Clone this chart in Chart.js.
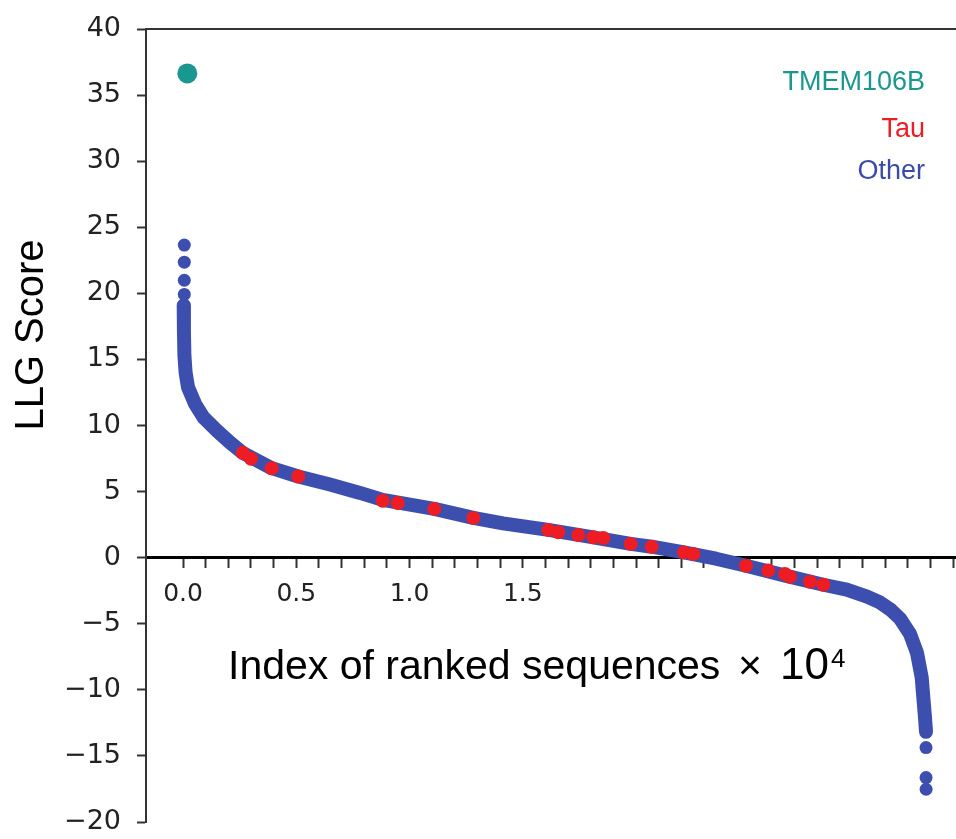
<!DOCTYPE html>
<html>
<head>
<meta charset="utf-8">
<title>LLG Score of ranked sequences</title>
<script src="https://cdn.jsdelivr.net/npm/chart.js@4.4.1/dist/chart.umd.min.js"></script>
<style>
  html, body { margin: 0; padding: 0; background: #fff; }
  #llgChart { display: block; }
</style>
</head>
<body>
<canvas id="llgChart" width="956" height="839"></canvas>
<script>
// X tick labels (index in units of 10^4)
const xLabelValues = [0, 5000, 10000, 15000];
const xLabelTexts = ['0.0', '0.5', '1.0', '1.5'];
const xTickStep = 1000;
const xTickLast = 34000;

// TMEM106B
const tmemX = [190];
const tmemY = [36.64];

// Tau sequences
const tauX = [2636, 3002, 3916, 5090, 8817, 9480, 11095, 12817, 16128, 16570, 17453, 18115,
              18557, 19766, 20693, 22119, 22530, 24856, 25842, 26578, 26799, 27682, 28270];
const tauY = [7.93, 7.48, 6.77, 6.14, 4.30, 4.14, 3.69, 3.01, 2.10, 1.92, 1.72, 1.54,
              1.49, 1.04, 0.83, 0.40, 0.28, -0.61, -0.98, -1.23, -1.44, -1.82, -2.05];

// Other sequences: dense ranked band
const otherX = [30, 40, 62, 115, 220, 530, 896, 1488, 2075, 2636, 3916, 5090, 6490, 7815, 8817,
                11095, 12817, 14128, 16128, 18115, 19766, 20693, 22119, 23532, 24856, 26591,
                28270, 29303, 30200, 30772, 31250, 31650, 32097, 32406, 32614, 32685, 32760, 32804];
const otherY = [19.09, 17.20, 15.30, 14.00, 12.90, 11.64, 10.63, 9.62, 8.71, 7.93, 6.77, 6.14, 5.53, 4.90, 4.37,
                3.69, 3.01, 2.60, 2.10, 1.54, 1.04, 0.83, 0.40, -0.08, -0.61, -1.36,
                -2.05, -2.42, -2.95, -3.39, -3.95, -4.60, -5.76, -7.20, -9.07, -10.58, -12.10, -13.18];
// Other sequences: isolated points at both ends
const otherTailX = [57, 57, 57, 57, 32804, 32806, 32808];
const otherTailY = [23.65, 22.36, 20.99, 19.92, -14.37, -16.64, -17.52];

const legendLabels = ['TMEM106B', 'Tau', 'Other'];

(function () {
    'use strict';

    const TEAL = '#1a9890';
    const RED = '#ee1d23';
    const BLUE = '#3d4fae';
    const legendColors = [TEAL, RED, '#3a4aa8'];
    const legendOffsets = [54, 101, 143];

    const toPoints = (xs, ys) => xs.map((x, i) => ({ x: x, y: ys[i] }));

    // axes must not push the plot area around
    const noPadding = (scale) => {
        scale.paddingLeft = 0;
        scale.paddingRight = 0;
        scale.paddingTop = 0;
        scale.paddingBottom = 0;
    };

    /**
     * Titles and coloured labels drawn on top of the chart
     */
    const figureText = {
        id: 'figureText',
        afterDraw(chart) {
            const ctx = chart.ctx;
            const area = chart.chartArea;
            ctx.save();

            ctx.font = '27px "Liberation Sans", Arial, sans-serif';
            ctx.textAlign = 'right';
            ctx.textBaseline = 'middle';
            legendLabels.forEach((label, i) => {
                ctx.fillStyle = legendColors[i];
                ctx.fillText(label, area.right - 31, area.top + legendOffsets[i]);
            });

            // x axis title with the multiplier
            ctx.fillStyle = '#000';
            ctx.textAlign = 'left';
            ctx.textBaseline = 'alphabetic';
            ctx.font = '41px "Liberation Sans", Arial, sans-serif';
            ctx.fillText('Index of ranked sequences', 228, 679);
            ctx.fillText('\u00d7', 738, 679);
            ctx.textAlign = 'right';
            ctx.font = '44px "Liberation Sans", Arial, sans-serif';
            ctx.fillText('10', 829, 679);
            ctx.textAlign = 'left';
            ctx.font = '26px "Liberation Sans", Arial, sans-serif';
            ctx.fillText('4', 831, 667);

            // y axis title
            ctx.font = '40px "Liberation Sans", Arial, sans-serif';
            ctx.textAlign = 'center';
            ctx.textBaseline = 'middle';
            ctx.translate(32, 335);
            ctx.rotate(-Math.PI / 2);
            ctx.fillText('LLG Score', 0, 0);

            ctx.restore();
        }
    };

    new Chart(document.getElementById('llgChart'), {
        type: 'scatter',
        data: {
            datasets: [
                {
                    label: 'TMEM106B',
                    data: toPoints(tmemX, tmemY),
                    backgroundColor: TEAL,
                    borderWidth: 0,
                    pointRadius: 10
                },
                {
                    label: 'Tau',
                    data: toPoints(tauX, tauY),
                    backgroundColor: RED,
                    borderWidth: 0,
                    pointRadius: 7
                },
                {
                    label: 'Other',
                    data: toPoints(otherX, otherY),
                    showLine: true,
                    tension: 0,
                    borderColor: BLUE,
                    borderWidth: 14,
                    borderCapStyle: 'round',
                    borderJoinStyle: 'round',
                    pointRadius: 0
                },
                {
                    label: 'Other',
                    data: toPoints(otherTailX, otherTailY),
                    backgroundColor: BLUE,
                    borderWidth: 0,
                    pointRadius: 6.5
                }
            ]
        },
        options: {
            responsive: false,
            animation: false,
            devicePixelRatio: 1,
            layout: { autoPadding: false, padding: { top: 29, bottom: 17, left: 0, right: 0 } },
            plugins: {
                legend: { display: false },
                tooltip: { enabled: false }
            },
            scales: {
                x: {
                    type: 'linear',
                    position: { y: 0 },
                    min: -1634,
                    max: 34128,
                    afterBuildTicks: (scale) => {
                        const ticks = [];
                        for (let v = 0; v <= xTickLast; v += xTickStep) ticks.push({ value: v });
                        scale.ticks = ticks;
                    },
                    afterFit: noPadding,
                    ticks: {
                        autoSkip: false,
                        maxRotation: 0,
                        minRotation: 0,
                        padding: 13,
                        color: '#222',
                        font: { family: '"DejaVu Sans", sans-serif', size: 25 },
                        callback: (value) => {
                            const k = xLabelValues.indexOf(value);
                            return k >= 0 ? xLabelTexts[k] : '';
                        }
                    },
                    grid: {
                        drawOnChartArea: false,
                        tickLength: 9,
                        tickWidth: 2,
                        tickColor: '#333'
                    },
                    border: { color: '#000', width: 3 }
                },
                x2: {
                    type: 'linear',
                    position: 'top',
                    min: -1634,
                    max: 34128,
                    afterFit: (scale) => {
                        noPadding(scale);
                        scale.height = 0;
                    },
                    ticks: { display: false },
                    grid: { display: false },
                    border: { display: true, color: '#333', width: 2 }
                },
                y: {
                    type: 'linear',
                    position: 'left',
                    min: -20,
                    max: 40,
                    afterFit: (scale) => {
                        noPadding(scale);
                        scale.width = 146;
                    },
                    ticks: {
                        stepSize: 5,
                        padding: 16,
                        color: '#222',
                        font: { family: '"DejaVu Sans", sans-serif', size: 27 },
                        callback: (value) => value < 0 ? '\u2212' + Math.abs(value) : String(value)
                    },
                    grid: {
                        drawOnChartArea: false,
                        tickLength: 9,
                        tickWidth: 2,
                        tickColor: '#333'
                    },
                    border: { color: '#333', width: 2 }
                }
            }
        },
        plugins: [figureText]
    });
})();
</script>
</body>
</html>
